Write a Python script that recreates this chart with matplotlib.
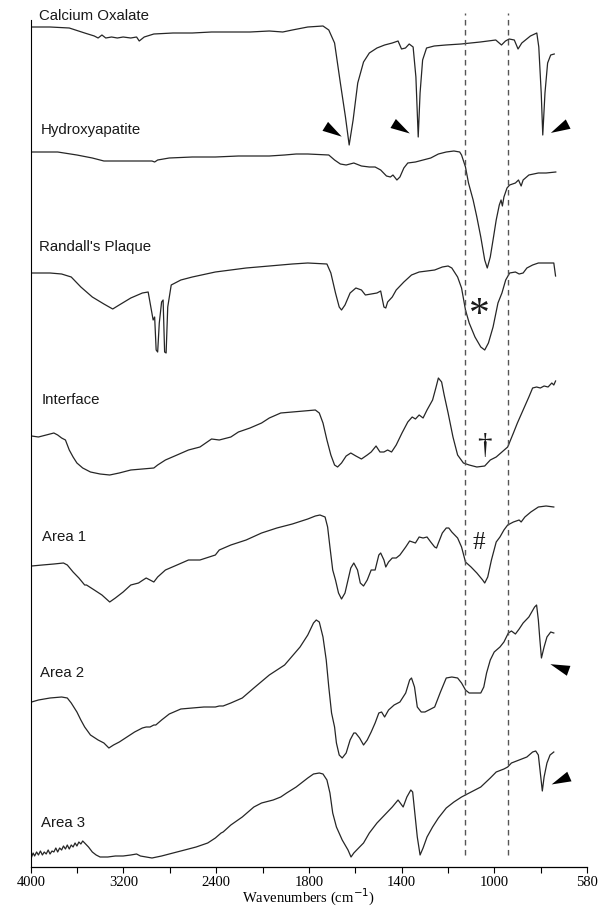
import numpy as np
import matplotlib
matplotlib.use("Agg")
import matplotlib.pyplot as plt
from matplotlib.path import Path
from matplotlib.markers import MarkerStyle
from matplotlib.transforms import Affine2D, blended_transform_factory

# ---------------- data ----------------
tick_wn = [4000, 3200, 2400, 1800, 1400, 1000, 580]

names = ["Calcium Oxalate", "Hydroxyapatite", "Randall's Plaque", "Interface",
         "Area 1", "Area 2", "Area 3"]
offsets = [715, 600, 480, 360, 240, 100, 0]

calox_wn = [3993, 3834, 3668, 3535, 3452, 3419, 3386, 3353, 3303, 3253, 3203, 3137, 3087, 3064, 3021,
            2938, 2772, 2606, 2440, 2305, 2181, 2056, 1969, 1907, 1807, 1739, 1714, 1689, 1664, 1642,
            1626, 1609, 1589, 1564, 1539, 1506, 1473, 1440, 1415, 1400, 1383, 1367, 1350, 1338, 1328,
            1320, 1309, 1292, 1259, 1209, 1143, 1060, 993, 967, 949, 932, 909, 892, 875, 836, 807, 798,
            787, 780, 770, 758, 744, 728]
calox_t = [125, 125, 124, 119, 116, 114, 117, 114, 115, 114, 115, 114, 115, 111, 115,
           118, 119, 119, 120, 120, 120, 121, 120, 122, 125, 126, 122, 109, 69, 35,
           7, 32, 69, 90, 99, 104, 107, 109, 111, 103, 104, 108, 105, 75, 15,
           59, 92, 104, 106, 107, 108, 110, 112, 107, 111, 113, 112, 103, 109, 116, 119, 105,
           59, 17, 59, 89, 97, 98]

hap_wn = [3993, 3768, 3602, 3469, 3369, 3270, 3104, 2954, 2931, 2905, 2805, 2606, 2407, 2256, 2106,
          2056, 1957, 1882, 1807, 1714, 1689, 1664, 1639, 1606, 1573, 1539, 1514, 1490, 1465, 1448,
          1437, 1420, 1407, 1390, 1373, 1340, 1307, 1274, 1241, 1207, 1174, 1149, 1141, 1124, 1111,
          1091, 1075, 1058, 1041, 1030, 1017, 1003, 991, 977, 969, 963, 956, 942, 930, 904, 890, 878,
          869, 843, 800, 765, 721]
hap_t = [115, 115, 112, 109, 106, 106, 106, 106, 105, 107, 109, 110, 110, 111, 111,
         111, 112, 113, 113, 112, 107, 103, 102, 104, 101, 100, 100, 97, 91, 90,
         92, 87, 90, 99, 104, 105, 107, 109, 113, 115, 116, 115, 112, 100, 84,
         67, 50, 30, 7, -1, 10, 30, 47, 62, 67, 61, 70, 79, 82, 84, 87, 81,
         87, 92, 94, 94, 95]

rp_wn = [3993, 3834, 3734, 3651, 3568, 3469, 3369, 3293, 3237, 3137, 3037, 2987, 2964, 2944, 2931,
         2918, 2905, 2891, 2871, 2858, 2845, 2832, 2818, 2788, 2705, 2606, 2407, 2206, 2056, 1907,
         1807, 1722, 1705, 1685, 1669, 1659, 1644, 1622, 1597, 1573, 1556, 1531, 1506, 1490, 1476,
         1468, 1460, 1440, 1423, 1390, 1357, 1324, 1290, 1257, 1224, 1199, 1183, 1158, 1141, 1124,
         1108, 1083, 1058, 1041, 1025, 1005, 983, 965, 948, 930, 904, 887, 869, 852, 826, 800, 765,
         730, 722]
rp_t = [114, 114, 113, 110, 100, 90, 83, 78, 82, 89, 94, 95, 80, 67, 70,
        37, 35, 64, 85, 87, 35, 34, 80, 102, 107, 110, 115, 119, 121, 123,
        124, 123, 114, 94, 80, 77, 82, 94, 99, 97, 92, 93, 94, 96, 80,
        79, 85, 90, 97, 105, 112, 115, 116, 117, 120, 121, 119, 110, 99, 77,
        64, 50, 40, 37, 44, 60, 84, 94, 107, 114, 115, 113, 114, 119, 122, 124, 124,
        124, 111]

int_wn = [3993, 3934, 3867, 3801, 3768, 3734, 3701, 3668, 3635, 3602, 3552, 3485, 3402, 3319, 3237,
          3137, 3037, 2938, 2905, 2838, 2738, 2639, 2540, 2440, 2380, 2305, 2256, 2181, 2106, 2056,
          1982, 1907, 1832, 1772, 1755, 1739, 1722, 1705, 1689, 1676, 1659, 1639, 1619, 1597, 1573,
          1548, 1531, 1510, 1493, 1476, 1460, 1443, 1423, 1398, 1373, 1354, 1340, 1324, 1307, 1290,
          1266, 1252, 1241, 1227, 1216, 1199, 1178, 1158, 1133, 1108, 1075, 1041, 1017, 991, 965,
          939, 913, 895, 869, 843, 826, 808, 791, 774, 756, 739, 730, 722]
int_t = [71, 70, 72, 74, 72, 69, 67, 57, 50, 44, 39, 35, 33, 32, 34,
         37, 38, 39, 42, 47, 52, 57, 60, 68, 67, 70, 75, 79, 84, 89,
         94, 95, 96, 97, 94, 84, 67, 52, 42, 40, 44, 51, 54, 51, 48,
         52, 55, 61, 55, 55, 57, 55, 62, 74, 85, 90, 88, 92, 89, 97,
         107, 119, 129, 125, 112, 94, 70, 52, 44, 42, 40, 41, 47, 50, 55,
         60, 74, 84, 97, 110, 119, 120, 119, 121, 120, 124, 122, 126]

a1_wn = [3993, 3900, 3801, 3718, 3685, 3635, 3585, 3535, 3519, 3452, 3386, 3319, 3270, 3203, 3137,
         3070, 3031, 3004, 2971, 2938, 2905, 2838, 2738, 2639, 2540, 2407, 2380, 2305, 2206, 2106,
         2007, 1907, 1807, 1772, 1752, 1730, 1719, 1709, 1697, 1685, 1672, 1659, 1644, 1631, 1619,
         1606, 1590, 1578, 1564, 1548, 1531, 1514, 1498, 1490, 1476, 1468, 1456, 1440, 1423, 1407,
         1382, 1365, 1340, 1324, 1307, 1290, 1274, 1257, 1249, 1241, 1224, 1207, 1196, 1183, 1158,
         1141, 1124, 1100, 1075, 1050, 1041, 1028, 1012, 991, 974, 956, 939, 913, 887, 878,
         861, 834, 800, 765, 730]
a1_t = [61, 62, 63, 64, 62, 55, 49, 42, 42, 37, 32, 25, 29, 35, 42,
        44, 47, 49, 47, 45, 50, 57, 62, 67, 67, 72, 77, 82, 87, 94,
        99, 103, 108, 111, 112, 110, 100, 80, 57, 47, 34, 28, 34, 47, 59,
        64, 57, 44, 41, 47, 57, 57, 72, 74, 67, 60, 65, 69, 69, 72,
        80, 86, 84, 90, 89, 90, 85, 80, 79, 84, 94, 99, 99, 95, 89,
        80, 65, 60, 54, 47, 44, 50, 67, 85, 90, 97, 102, 105, 107, 105,
        110, 115, 120, 121, 120]

a2_wn = [3993, 3934, 3834, 3734, 3685, 3651, 3602, 3568, 3535, 3485, 3419, 3369, 3326, 3286, 3236,
         3170, 3104, 3037, 3004, 2971, 2938, 2921, 2871, 2805, 2705, 2606, 2506, 2407, 2380, 2355,
         2305, 2231, 2156, 2056, 1957, 1857, 1807, 1780, 1768, 1755, 1739, 1725, 1714, 1702, 1689,
         1681, 1669, 1656, 1639, 1622, 1606, 1598, 1581, 1564, 1548, 1531, 1514, 1498, 1486, 1473,
         1456, 1432, 1407, 1382, 1365, 1357, 1344, 1332, 1315, 1299, 1282, 1257, 1232, 1207, 1183,
         1158, 1141, 1124, 1108, 1083, 1058, 1045, 1033, 1017, 1000, 974, 956, 936, 922, 904,
         887, 869, 843, 817, 808, 800, 793, 786, 774, 761, 744, 730]
a2_t = [65, 67, 69, 70, 69, 64, 55, 47, 40, 32, 27, 24, 19, 22, 25,
        30, 35, 39, 40, 40, 42, 42, 47, 53, 58, 59, 60, 60, 61, 61,
        64, 69, 79, 92, 102, 120, 132, 144, 147, 145, 130, 107, 80, 54, 40,
        24, 12, 9, 14, 27, 34, 34, 29, 22, 27, 35, 44, 54, 55, 50,
        57, 62, 65, 74, 87, 89, 80, 60, 55, 55, 57, 60, 75, 89, 90,
        89, 84, 77, 74, 74, 74, 80, 94, 107, 115, 120, 125, 134, 136, 133,
        138, 144, 150, 160, 162, 147, 127, 109, 120, 130, 135, 134]

a3_wn = [3993, 3980, 3967, 3950, 3934, 3917, 3900, 3884, 3867, 3850, 3834, 3817, 3801, 3784, 3768,
         3751, 3734, 3718, 3701, 3685, 3668, 3651, 3635, 3618, 3602, 3585, 3568, 3552, 3535, 3502,
         3469, 3436, 3402, 3336, 3270, 3203, 3137, 3087, 3054, 3004, 2954, 2871, 2772, 2672, 2573,
         2473, 2407, 2368, 2355, 2305, 2231, 2156, 2106, 2031, 1982, 1944, 1882, 1807, 1780, 1755,
         1739, 1722, 1709, 1697, 1681, 1656, 1631, 1618, 1606, 1581, 1564, 1539, 1506, 1473, 1440,
         1415, 1393, 1377, 1360, 1352, 1344, 1332, 1320, 1307, 1290, 1266, 1241, 1207, 1174, 1141,
         1108, 1058, 1017, 991, 956, 939, 922, 887, 852, 826, 812, 800, 791, 782, 774, 761, 747, 730]
a3_t = [10, 14, 11, 15, 12, 16, 12, 15, 13, 17, 13, 16, 15, 19, 15,
        19, 17, 21, 18, 22, 18, 22, 20, 24, 21, 25, 23, 26, 24, 20,
        15, 12, 10, 10, 11, 11, 12, 13, 11, 10, 9, 11, 14, 17, 20,
        24, 29, 34, 35, 42, 50, 60, 64, 67, 70, 74, 80, 89, 93, 94,
        93, 87, 74, 54, 40, 27, 17, 10, 14, 20, 24, 34, 44, 52, 60,
        67, 60, 70, 77, 75, 57, 30, 12, 19, 30, 40, 49, 59, 65, 70,
        74, 80, 89, 95, 98, 100, 104, 107, 110, 115, 116, 112, 94, 76, 90, 104, 112, 115]

spectra_wn = [calox_wn, hap_wn, rp_wn, int_wn, a1_wn, a2_wn, a3_wn]
spectra_t = [calox_t, hap_t, rp_t, int_t, a1_t, a2_t, a3_t]

label_x = [0.0139, 0.0173, 0.0139, 0.0193, 0.0207, 0.0159, 0.0180]
label_y = [851, 737, 620, 467, 330, 194, 44]

dashed_wn = [1128, 938]

# arrowheads: (wavenumber, height, angle)
arrow_wn = [1696, 1402, 706, 706, 700]
arrow_y = [736, 739, 739, 200, 87]
arrow_ang = [-32, -31, -153, 160, -156]

symbols = ["*", "\u2020", "#"]
symbol_wn = [1066, 1044, 1066]
symbol_y = [551, 421, 324]
symbol_size = [30, 21, 18]

# ---------------- scale ----------------
xp = np.array([0, 580, 1000, 1400, 1800, 2400, 3200, 4000, 10000], dtype=float)
fp = np.array([-580 / 420, 0, 1, 2, 3, 4, 5, 6, 6 + 6000 / 800], dtype=float)


def fwd(x):
    return np.interp(np.asarray(x, dtype=float), xp, fp)


def inv(y):
    return np.interp(np.asarray(y, dtype=float), fp, xp)


# ---------------- figure ----------------
W, H = 603, 910
fig = plt.figure(figsize=(W / 100, H / 100), dpi=100)
ax_left, ax_right, ax_bot = 30.8, 586.9, 867
ax = fig.add_axes([ax_left / W, (H - ax_bot) / H, (ax_right - ax_left) / W, ax_bot / H])
ax.set_xscale("function", functions=(fwd, inv))
ax.set_xlim(4000, 580)
ax.set_ylim(0, ax_bot)

line_col = "#262626"
for wn, t, off in zip(spectra_wn, spectra_t, offsets):
    ax.plot(wn, np.asarray(t) + off, color=line_col, lw=0.9, solid_joinstyle="round")

for xd in dashed_wn:
    ax.vlines(xd, 12, 854, colors="#555555", lw=1.0, linestyles=(0, (4, 3.2)))

trans = blended_transform_factory(ax.transAxes, ax.transData)
for name, lx, ly in zip(names, label_x, label_y):
    ax.text(lx, ly, name, transform=trans, ha="left", va="center",
            fontsize=10.8, family=["Liberation Sans", "DejaVu Sans"], color="#1a1a1a")

tri = Path([(0.5, 0), (-0.5, 0.27), (-0.5, -0.27), (0.5, 0)],
           [Path.MOVETO, Path.LINETO, Path.LINETO, Path.CLOSEPOLY])
for xw, yh, ang in zip(arrow_wn, arrow_y, arrow_ang):
    m = MarkerStyle(tri, transform=Affine2D().rotate_deg(ang))
    ax.plot([xw], [yh], marker=m, ms=14, color="black", mec="black", mew=0, ls="none")

for s, xw, yh, fs in zip(symbols, symbol_wn, symbol_y, symbol_size):
    ax.text(xw, yh, s, ha="center", va="center", fontsize=fs,
            family=["Liberation Serif", "DejaVu Serif"], color="#1a1a1a")

# axes styling
for sp in ["top", "right"]:
    ax.spines[sp].set_visible(False)
ax.spines["left"].set_bounds(0, ax_bot - 20)
ax.spines["left"].set_linewidth(0.8)
ax.spines["bottom"].set_linewidth(0.9)
ax.set_yticks([])

ax.set_xticks(tick_wn)
ax.set_xticklabels([str(v) for v in tick_wn])
ax.set_xticks(inv(np.arange(0.5, 6, 1.0)), minor=True)
ax.tick_params(axis="x", which="both", direction="out", length=4.5, width=0.8, pad=2,
               labelsize=10.5)
for lab in ax.get_xticklabels():
    lab.set_family(["Liberation Serif", "DejaVu Serif"])

plt.rcParams["mathtext.fontset"] = "custom"
plt.rcParams["mathtext.rm"] = "Liberation Serif"
ax.set_xlabel(r"Wavenumbers (cm$^{\mathrm{-1}}$)", fontsize=10.5,
              family=["Liberation Serif", "DejaVu Serif"], labelpad=-1.2)

fig.savefig("out.png", dpi=100, facecolor="white")
